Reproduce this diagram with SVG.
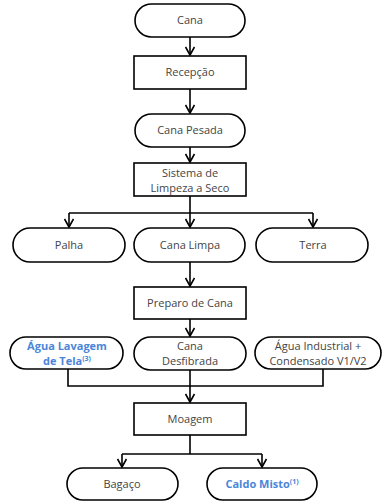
<svg xmlns="http://www.w3.org/2000/svg" width="383" height="501" viewBox="0 0 383 501">
<defs>
<style>
.n{fill:#fff;stroke:#000;stroke-width:1.6}
.t{font-family:"Open Sans","Liberation Sans",sans-serif;font-size:11px;fill:#444;text-anchor:middle}
.b{fill:#4a86d8;font-weight:bold}
.c{fill:none;stroke:#000;stroke-width:1.6}
</style>
<marker id="ah" markerWidth="12" markerHeight="10" refX="10" refY="5" orient="auto" markerUnits="userSpaceOnUse">
<polyline points="2,0.5 10,5 2,9.5" fill="none" stroke="#000" stroke-width="1.6"/>
</marker>
</defs>
<rect width="383" height="501" fill="#fff"/>
<g id="connectors">
<line class="c" x1="190" y1="37" x2="190" y2="55" marker-end="url(#ah)"/>
<line class="c" x1="190" y1="89" x2="190" y2="113" marker-end="url(#ah)"/>
<line class="c" x1="190" y1="147" x2="190" y2="162" marker-end="url(#ah)"/>
<polyline class="c" points="190,196 190,213"/>
<polyline class="c" points="69,213 313,213"/>
<line class="c" x1="69" y1="213" x2="69" y2="227" marker-end="url(#ah)"/>
<line class="c" x1="190" y1="213" x2="190" y2="227" marker-end="url(#ah)"/>
<line class="c" x1="313" y1="213" x2="313" y2="227" marker-end="url(#ah)"/>
<line class="c" x1="190" y1="262" x2="190" y2="286" marker-end="url(#ah)"/>
<line class="c" x1="190" y1="319" x2="190" y2="336" marker-end="url(#ah)"/>
<polyline class="c" points="68,368 68,386 323,386 323,368"/>
<line class="c" x1="190" y1="370" x2="190" y2="402" marker-end="url(#ah)"/>
<polyline class="c" points="190,435 190,454"/>
<polyline class="c" points="122,454 262,454"/>
<line class="c" x1="122" y1="454" x2="122" y2="467" marker-end="url(#ah)"/>
<line class="c" x1="262" y1="454" x2="262" y2="467" marker-end="url(#ah)"/>
</g>
<g id="cana"><rect class="n" x="135" y="4" width="110" height="33" rx="16.5"/><text class="t" x="190" y="24">Cana</text></g>
<g id="recepcao"><rect class="n" x="134" y="56" width="112" height="33"/><text class="t" x="190" y="76">Recepção</text></g>
<g id="cana-pesada"><rect class="n" x="135" y="114" width="110" height="33" rx="16.5"/><text class="t" x="190" y="134">Cana Pesada</text></g>
<g id="sistema"><rect class="n" x="134" y="163" width="112" height="33"/><text class="t" x="190" y="177">Sistema de</text><text class="t" x="190" y="192">Limpeza a Seco</text></g>
<g id="palha"><rect class="n" x="13" y="228" width="112" height="34" rx="17"/><text class="t" x="69" y="249">Palha</text></g>
<g id="cana-limpa"><rect class="n" x="134" y="228" width="111" height="34" rx="17"/><text class="t" x="190" y="249">Cana Limpa</text></g>
<g id="terra"><rect class="n" x="256" y="228" width="112" height="34" rx="17"/><text class="t" x="313" y="249">Terra</text></g>
<g id="preparo"><rect class="n" x="134" y="287" width="112" height="32"/><text class="t" x="190" y="307">Preparo de Cana</text></g>
<g id="agua-lavagem"><rect class="n" x="10" y="337" width="113" height="32" rx="16"/><text class="t b" x="67" y="350">Água Lavagem</text><text class="t b" x="67" y="365">de Tela<tspan font-size="7" dy="-4">(3)</tspan></text></g>
<g id="cana-desfibrada"><rect class="n" x="134" y="337" width="112" height="33" rx="16.5"/><text class="t" x="190" y="350">Cana</text><text class="t" x="190" y="365">Desfibrada</text></g>
<g id="agua-industrial"><rect class="n" x="255" y="337" width="126" height="32" rx="16"/><text class="t" x="318" y="350">Água Industrial +</text><text class="t" x="318" y="365">Condensado V1/V2</text></g>
<g id="moagem"><rect class="n" x="134" y="403" width="112" height="32"/><text class="t" x="190" y="423">Moagem</text></g>
<g id="bagaco"><rect class="n" x="67" y="468" width="111" height="32" rx="16"/><text class="t" x="122" y="488">Bagaço</text></g>
<g id="caldo-misto"><rect class="n" x="207" y="468" width="110" height="32" rx="16"/><text class="t b" x="262" y="488">Caldo Misto<tspan font-size="7" dy="-4">(1)</tspan></text></g>
</svg>
